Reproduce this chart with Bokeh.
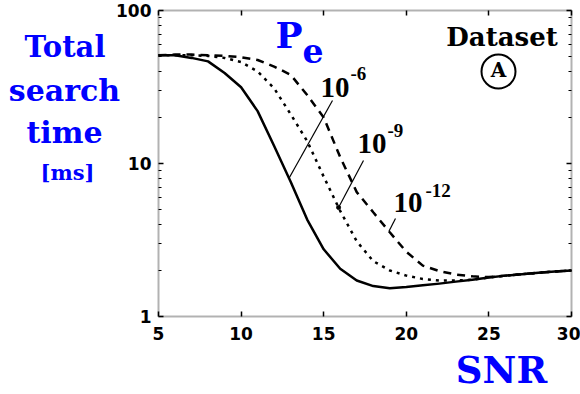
import numpy as np
from bokeh.plotting import figure
from bokeh.models import (Label, LinearAxis, LogAxis, FixedTicker, Range1d,
                          CustomJSTickFormatter, BoxAnnotation)
from bokeh.embed import file_html
from bokeh.resources import INLINE

# ---- data ----
snr = list(range(5, 31))
time_pe_1e6 = [51, 51, 49, 46.5, 39, 31.5, 22, 13, 7.6, 4.3, 2.75, 2.05, 1.72, 1.58, 1.53,
               1.56, 1.6, 1.64, 1.69, 1.74, 1.8, 1.85, 1.89, 1.93, 1.97, 2.0]
time_pe_1e9 = [51, 51, 51, 50.5, 49, 46, 40, 31, 21, 14, 8.2, 4.9, 3.1, 2.3, 2.0,
               1.85, 1.76, 1.72, 1.72, 1.74, 1.8, 1.85, 1.89, 1.93, 1.97, 2.0]
time_pe_1e12 = [51, 51.5, 51.5, 51, 50.5, 49.5, 47.5, 43, 38, 28, 20, 11, 6.5, 4.8, 3.55,
                2.65, 2.15, 1.98, 1.88, 1.83, 1.81, 1.85, 1.89, 1.93, 1.97, 2.0]
x_ticks = [5, 10, 15, 20, 25, 30]
y_ticks = [1, 10, 100]
y_minor = [2, 3, 4, 5, 6, 7, 8, 9, 20, 30, 40, 50, 60, 70, 80, 90]
pe_labels = ["-6", "-9", "-12"]
X0, X1, Y0, Y1 = 5, 30, 1, 100

BLUE = "#0000FF"
SERIF = "DejaVu Serif"
NUMSERIF = "Liberation Serif"
SANS = "DejaVu Sans"

W, H = 580, 394
FL, FR, FT, FB = 158, 571, 10, 316  # plot box edges in canvas px
kx = (FR - FL) / (X1 - X0)
ky = (FB - FT) / np.log10(Y1 / Y0)

p = figure(width=W, height=H, y_axis_type="log",
           x_range=Range1d(X0 - FL / kx, X1 + (W - FR) / kx),
           y_range=Range1d(Y0 * 10 ** (-(H - FB) / ky), Y1 * 10 ** (FT / ky)),
           output_backend="svg", toolbar_location=None,
           x_axis_location=None, y_axis_location=None, min_border=0)
p.grid.visible = False
p.outline_line_color = None
p.background_fill_color = "white"
p.border_fill_color = "white"

# plot box
p.add_layout(BoxAnnotation(left=X0, right=X1, bottom=Y0, top=Y1, fill_alpha=0,
                           line_color="black", line_width=2))


def style_axis(ax, labels, standoff):
    ax.axis_line_color = None
    ax.major_tick_in = 5
    ax.major_tick_out = 0
    ax.major_tick_line_width = 1.5
    ax.minor_tick_in = 3
    ax.minor_tick_out = 0
    ax.major_label_text_font = SANS
    ax.major_label_text_font_style = "bold"
    ax.major_label_text_font_size = "17px"
    ax.major_label_text_color = "black"
    ax.major_label_standoff = standoff
    if not labels:
        ax.major_label_text_alpha = 0


for side, fixed, is_x, labels in [("below", Y0, True, True), ("above", Y1, True, False),
                                  ("left", X0, False, True), ("right", X1, False, False)]:
    if is_x:
        ax = LinearAxis(ticker=FixedTicker(ticks=x_ticks, minor_ticks=[]),
                        fixed_location=fixed, bounds=(X0, X1))
    else:
        ax = LogAxis(ticker=FixedTicker(ticks=y_ticks, minor_ticks=y_minor),
                     formatter=CustomJSTickFormatter(code="return String(Math.round(tick));"),
                     fixed_location=fixed, bounds=(Y0, Y1))
    style_axis(ax, labels, 10 if is_x else 7)
    p.add_layout(ax, side)

# ---- curves ----
p.line(snr, time_pe_1e12, line_color="black", line_width=2.5, line_dash="8 6")
p.line(snr, time_pe_1e9, line_color="black", line_width=2.5, line_dash="3 5")
p.line(snr, time_pe_1e6, line_color="black", line_width=2.5, line_join="round")


def to_data(cx, cy):
    """canvas px -> data coords"""
    x = X0 + (cx - FL) / kx
    y = Y0 * 10 ** ((FB - cy) / ky)
    return float(x), float(y)


def on_curve(x, series):
    return float(10 ** np.interp(x, snr, np.log10(series)))


# leader lines: from label (canvas px) to a point on the curve (data x)
leaders = [((332, 100), 12.9, time_pe_1e6),
           ((363, 160), 15.9, time_pe_1e9),
           ((395, 218), 18.95, time_pe_1e12)]
for (cx, cy), xe, ser in leaders:
    x0, y0 = to_data(cx, cy)
    p.line([x0, xe], [y0, on_curve(xe, ser)], line_color="black", line_width=1.2)
p.scatter([15.9], [on_curve(15.9, time_pe_1e9)], size=4, color="black")


def lab(text, x, y, size, color="black", align="left", font=SERIF, baseline="alphabetic"):
    # y is the wanted baseline in canvas px (from top)
    if baseline == "alphabetic":
        y = y - 0.36 * size
    p.add_layout(Label(x=float(x), y=float(H - y), x_units="screen", y_units="screen",
                       text=text, text_font=font, text_font_style="bold",
                       text_font_size=f"{size}px", text_color=color,
                       text_align=align, text_baseline=baseline))


lab("Total", 64.5, 57, 29, BLUE, "center")
lab("search", 64, 101, 30, BLUE, "center")
lab("time", 64, 143, 30, BLUE, "center")
lab("[ms]", 67, 180, 21, BLUE, "center")
lab("SNR", 501, 383, 37, BLUE, "center")
lab("P", 275, 47, 36, BLUE)
lab("e", 302, 62, 33, BLUE)
lab("Dataset", 501.5, 46, 26, "black", "center")
lab("A", 498, 69, 20, "black", "center", baseline="middle")
cxA, cyA = to_data(498, 71)
p.scatter([cxA], [cyA], marker="circle", size=34, fill_color=None,
          line_color="black", line_width=2)

# Pe value labels
for (bx, by), (sx, sy), sup in zip([(320, 97), (357, 153), (393, 212)],
                                   [(350, 80), (387, 137), (425, 197)], pe_labels):
    lab("10", bx, by, 29, font=NUMSERIF)
    lab(sup, sx, sy, 19, font=NUMSERIF)

open("out.html", "w").write(file_html(p, INLINE))
